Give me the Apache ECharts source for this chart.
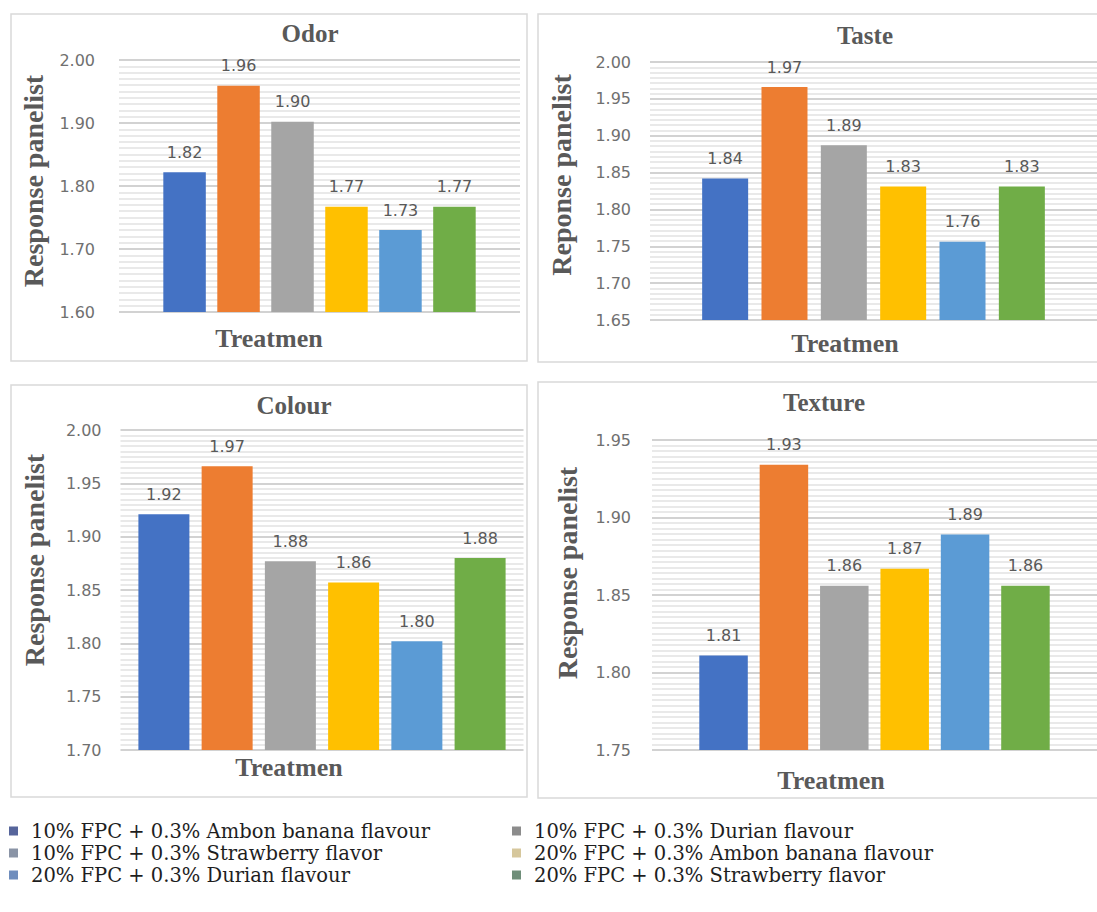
<!DOCTYPE html>
<html>
<head>
<meta charset="utf-8">
<script src="https://cdn.jsdelivr.net/npm/echarts@6/dist/echarts.min.js"></script>
<style>
html,body{margin:0;padding:0;background:#fff;}
#chart{width:1097px;height:912px;}
</style>
</head>
<body>
<div id="chart"></div>
<script>
// ---- data ----
const categories = ['Treatmen'];
const seriesNames = [
  '10% FPC + 0.3% Ambon banana flavour',
  '10% FPC + 0.3% Durian flavour',
  '10% FPC + 0.3% Strawberry flavor',
  '20% FPC + 0.3% Ambon banana flavour',
  '20% FPC + 0.3% Durian flavour',
  '20% FPC + 0.3% Strawberry flavor'
];
const odorValues    = [1.822, 1.959, 1.902, 1.767, 1.730, 1.767];
const tasteValues   = [1.842, 1.966, 1.887, 1.831, 1.756, 1.831];
const colourValues  = [1.921, 1.966, 1.877, 1.857, 1.802, 1.880];
const textureValues = [1.811, 1.934, 1.856, 1.867, 1.889, 1.856];
const panelTitles = ['Odor', 'Taste', 'Colour', 'Texture'];
const yAxisNames = ['Response panelist', 'Reponse panelist', 'Response panelist', 'Response panelist'];
const xAxisName = 'Treatmen';
const yMins = [1.60, 1.65, 1.70, 1.75];
const yMaxs = [2.00, 2.00, 2.00, 1.95];
const yIntervals = [0.10, 0.05, 0.05, 0.05];
const legendColumns = [[0, 2, 4], [1, 3, 5]];

// ---- styles / layout ----
const barColors = ['#4472C4', '#ED7D31', '#A5A5A5', '#FFC000', '#5B9BD5', '#70AD47'];
const legendMarkerColors = ['#56659b', '#8c8c8c', '#8a94a6', '#d6c79c', '#6f8dbd', '#6f8e79'];
const panelValues = [odorValues, tasteValues, colourValues, textureValues];
const grids = [
  {left: 119, top: 60, width: 401, height: 252},
  {left: 650, top: 62, width: 451, height: 258},
  {left: 120.5, top: 430, width: 403, height: 320},
  {left: 652, top: 440, width: 449, height: 310}
];
const barWidths = [42.5, 46, 51, 48.5];
const barGaps = ['27%', '29%', '24%', '24.5%'];
const minorSplits = [10, 7, 10, 14];
const labelMargins = [24, 19, 19, 21];
const titlePos = [[310, 33], [865, 35], [294, 405], [824, 402]];
const xNamePos = [[269, 338], [845, 343], [289, 767], [831, 780]];
const yNamePos = [[33, 181], [561, 175], [34, 560], [567, 573]];
const panelRects = [
  [11, 14, 516, 347], [538, 14, 570, 348], [11, 385, 516, 412], [538, 382, 570, 416]
];

const serif = '"Liberation Serif", "Times New Roman", serif';
const sans = '"DejaVu Sans", sans-serif';
const legendSerif = '"DejaVu Serif", serif';
const txtGrey = '#595959';

const xAxes = [], yAxes = [], series = [], graphics = [];
grids.forEach((g, i) => {
  xAxes.push({
    type: 'category', gridIndex: i, data: categories,
    axisLine: {show: false}, axisTick: {show: false}, axisLabel: {show: false},
    splitLine: {show: false}
  });
  yAxes.push({
    type: 'value', gridIndex: i, min: yMins[i], max: yMaxs[i], interval: yIntervals[i],
    axisLine: {show: false}, axisTick: {show: false},
    axisLabel: {
      margin: labelMargins[i], color: '#707070', fontFamily: sans, fontSize: 16,
      formatter: v => v.toFixed(2)
    },
    splitLine: {show: true, lineStyle: {color: '#d2d2d2', width: 2}},
    minorTick: {show: false, splitNumber: minorSplits[i]},
    minorSplitLine: {show: true, lineStyle: {color: '#e2e2e2', width: 1.5}}
  });
  panelValues[i].forEach((v, k) => {
    series.push({
      type: 'bar', name: seriesNames[k], xAxisIndex: i, yAxisIndex: i,
      data: [v], barWidth: barWidths[i], barGap: barGaps[i],
      itemStyle: {color: barColors[k]},
      label: {
        show: true, position: 'top', distance: 12, color: txtGrey,
        fontFamily: sans, fontSize: 16, formatter: p => p.value.toFixed(2)
      }
    });
  });
  const r = panelRects[i];
  graphics.push({
    type: 'rect', silent: true, z: -10,
    shape: {x: r[0], y: r[1], width: r[2], height: r[3]},
    style: {fill: 'none', stroke: '#d9d9d9', lineWidth: 1.5}
  });
  graphics.push({
    type: 'text', x: titlePos[i][0], y: titlePos[i][1],
    style: {text: panelTitles[i], fill: txtGrey, font: 'bold 25px ' + serif,
      textAlign: 'center', textVerticalAlign: 'middle'}
  });
  graphics.push({
    type: 'text', x: xNamePos[i][0], y: xNamePos[i][1],
    style: {text: xAxisName, fill: txtGrey, font: 'bold 26px ' + serif,
      textAlign: 'center', textVerticalAlign: 'middle'}
  });
  graphics.push({
    type: 'text', x: yNamePos[i][0], y: yNamePos[i][1], rotation: Math.PI / 2,
    style: {text: yAxisNames[i], fill: txtGrey, font: 'bold 28px ' + serif,
      textAlign: 'center', textVerticalAlign: 'middle'}
  });
});

const legendLefts = [9, 512];
const legends = legendColumns.map((col, c) => ({
  orient: 'vertical', left: legendLefts[c], top: 820, padding: 0,
  itemWidth: 9, itemHeight: 9, itemGap: 0, icon: 'rect', selectedMode: false,
  textStyle: {fontFamily: legendSerif, fontSize: 19.5, lineHeight: 22, color: '#1e1e1e', padding: [0, 0, 0, 8]},
  data: col.map(k => ({name: seriesNames[k], itemStyle: {color: legendMarkerColors[k]}}))
}));

const chart = echarts.init(document.getElementById('chart'), null, {renderer: 'svg'});
chart.setOption({
  backgroundColor: '#ffffff',
  animation: false,
  grid: grids,
  xAxis: xAxes,
  yAxis: yAxes,
  series: series,
  legend: legends,
  graphic: graphics
});
</script>
</body>
</html>
